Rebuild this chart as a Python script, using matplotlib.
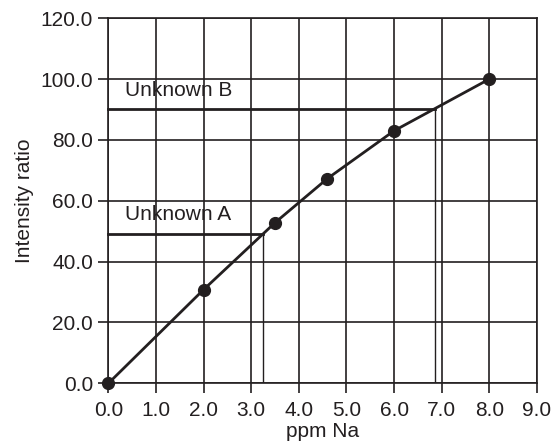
import matplotlib
matplotlib.use("Agg")
import matplotlib.pyplot as plt

plt.rcParams['font.family'] = ['Liberation Sans', 'DejaVu Sans']

# calibration standards
ppm = [0.0, 2.0, 3.5, 4.6, 6.0, 8.0]
ratio = [0.0, 30.8, 52.8, 67.3, 83.0, 100.0]

# unknowns: (label, intensity ratio, ppm)
unk_names = ["Unknown A", "Unknown B"]
unk_y = [49.0, 90.0]
unk_x = [3.25, 6.85]

xticks = [0, 1, 2, 3, 4, 5, 6, 7, 8, 9]
yticks = [0, 20, 40, 60, 80, 100, 120]

ink = '#231f20'

fig = plt.figure(figsize=(5.53, 4.48), dpi=100)
ax = fig.add_axes([0.196, 0.1444, 0.775, 0.815])

ax.set_xlim(0, 9)
ax.set_ylim(0, 120)
ax.set_xticks(xticks)
ax.set_yticks(yticks)
ax.set_xticklabels(['%.1f' % v for v in xticks])
ax.set_yticklabels(['%.1f' % v for v in yticks])
ax.grid(True, color=ink, lw=1.2)
ax.set_axisbelow(True)
for s in ax.spines.values():
    s.set_color(ink)
    s.set_linewidth(1.2)
ax.tick_params(direction='out', length=7, width=1.2, color=ink,
               labelcolor=ink, labelsize=15, pad=4)
ax.tick_params(axis='x', pad=6)

for name, y, x in zip(unk_names, unk_y, unk_x):
    ax.plot([0, x], [y, y], color=ink, lw=2, clip_on=False, zorder=3)
    ax.plot([x, x], [0, y], color=ink, lw=1, zorder=3)
    ax.text(0.35, y + 3.2, name, fontsize=15, color=ink,
            ha='left', va='bottom')

ax.plot(ppm, ratio, color=ink, lw=2, marker='o', markersize=8.5,
        clip_on=False, zorder=4)

ax.set_xlabel('ppm Na', fontsize=15, labelpad=1, color=ink)
ax.set_ylabel('Intensity ratio', fontsize=15, labelpad=5, color=ink)

fig.savefig('out.png', dpi=100)
